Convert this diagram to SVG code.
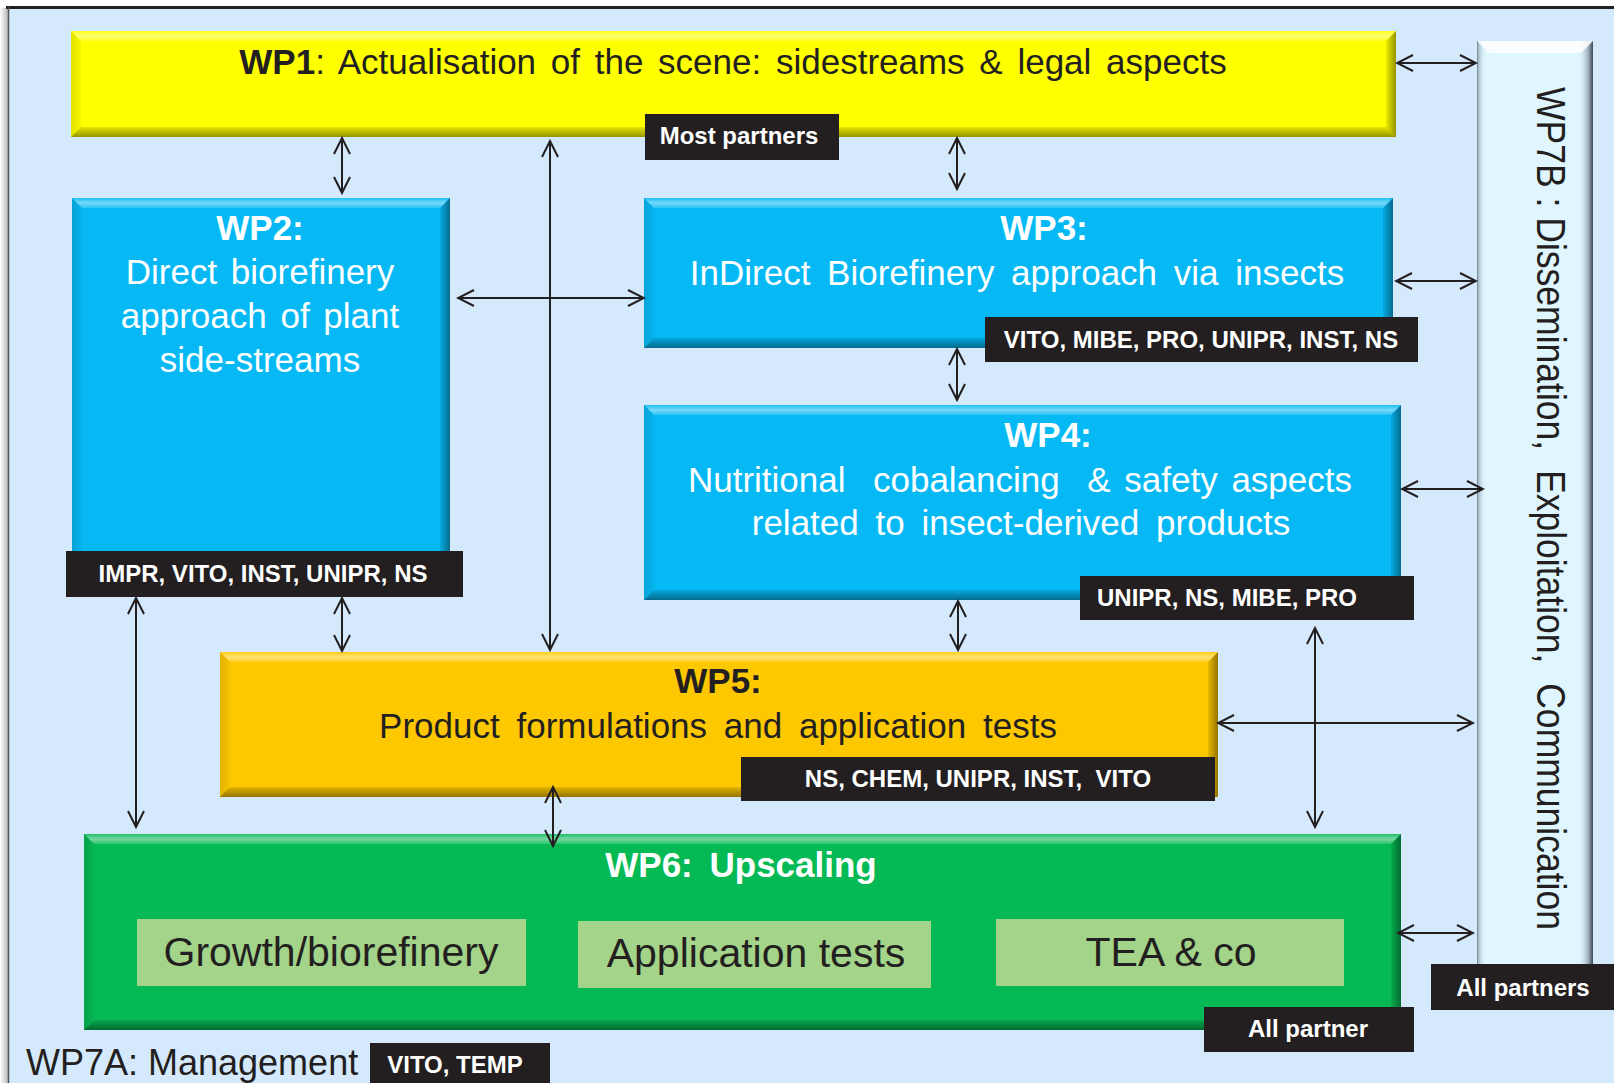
<svg xmlns="http://www.w3.org/2000/svg" width="1614" height="1083" viewBox="0 0 1614 1083">
  <defs>
    <style>
      .sans { font-family: "Liberation Sans", Arial, sans-serif; }
      .body { font-family: "Liberation Sans", Arial, sans-serif; font-size: 35px; }
      .title { font-family: "Liberation Sans", Arial, sans-serif; font-size: 35px; font-weight: bold; }
      .light { fill: #ffffff; }
      .dark { fill: #231f20; }
      .tag { fill: #231f20; }
      .tagtext { font-family: "Liberation Sans", Arial, sans-serif; font-size: 24px; font-weight: bold; fill: #ffffff; }
      .sub { fill: #a3d48a; }
      .subtext { font-family: "Liberation Sans", Arial, sans-serif; font-size: 41px; fill: #231f20; }
      .bvT { fill: url(#gTop); }
      .bvL { fill: url(#gLeft); }
      .bvR { fill: url(#gRight); }
      .bvB { fill: url(#gBot); }
      #connectors line { stroke: #231f20; stroke-width: 2; fill: none; marker-start: url(#ah); marker-end: url(#ah); }
    </style>
    <marker id="ah" viewBox="-18 -10 20 20" refX="0" refY="0" markerWidth="20" markerHeight="20" markerUnits="userSpaceOnUse" orient="auto-start-reverse">
      <path d="M-16,-8 L0,0 L-16,8" fill="none" stroke="#231f20" stroke-width="2"/>
    </marker>
    <linearGradient id="gTop" x1="0" y1="0" x2="0" y2="1">
      <stop offset="0" stop-color="#fff" stop-opacity="0.1"/>
      <stop offset="0.5" stop-color="#fff" stop-opacity="0.45"/>
      <stop offset="1" stop-color="#fff" stop-opacity="0.15"/>
    </linearGradient>
    <linearGradient id="gLeft" x1="0" y1="0" x2="1" y2="0">
      <stop offset="0" stop-color="#000" stop-opacity="0.12"/>
      <stop offset="1" stop-color="#000" stop-opacity="0.03"/>
    </linearGradient>
    <linearGradient id="gRight" x1="0" y1="0" x2="1" y2="0">
      <stop offset="0" stop-color="#000" stop-opacity="0.08"/>
      <stop offset="1" stop-color="#000" stop-opacity="0.42"/>
    </linearGradient>
    <linearGradient id="gBot" x1="0" y1="0" x2="0" y2="1">
      <stop offset="0" stop-color="#000" stop-opacity="0.1"/>
      <stop offset="1" stop-color="#000" stop-opacity="0.42"/>
    </linearGradient>
    <linearGradient id="gShadeL" x1="0" y1="0" x2="1" y2="0">
      <stop offset="0" stop-color="#ffffff"/>
      <stop offset="1" stop-color="#b8b8b8"/>
    </linearGradient>
    <linearGradient id="g7Left" x1="0" y1="0" x2="1" y2="0">
      <stop offset="0" stop-color="#8fa3b3"/>
      <stop offset="1" stop-color="#e0f6fe" stop-opacity="0"/>
    </linearGradient>
    <linearGradient id="g7Right" x1="0" y1="0" x2="1" y2="0">
      <stop offset="0" stop-color="#e0f6fe" stop-opacity="0"/>
      <stop offset="0.7" stop-color="#9aabb8"/>
      <stop offset="1" stop-color="#3d4650"/>
    </linearGradient>
  </defs>

  <!-- page and frame -->
  <rect x="0" y="0" width="1614" height="1083" fill="#ffffff"/>
  <rect x="0" y="8" width="8" height="1075" fill="url(#gShadeL)"/>
  <rect x="8" y="8" width="1606" height="1075" fill="#d5e9fc"/>
  <line x1="6" y1="7.5" x2="1614" y2="7.5" stroke="#222" stroke-width="3"/>
  <line x1="8.5" y1="7" x2="8.5" y2="1083" stroke="#555" stroke-width="1.5"/>

  <!-- WP1 -->
  <g id="wp1">
    <rect x="71" y="31" width="1325" height="106" fill="#ffff00"/>
    <polygon class="bvT" points="71,31 1396,31 1386,41 81,41"/>
    <polygon class="bvL" points="71,31 81,41 81,127 71,137"/>
    <polygon class="bvR" points="1396,31 1396,137 1386,127 1386,41"/>
    <polygon class="bvB" points="71,137 81,127 1386,127 1396,137"/>
    <text class="body dark" x="733" y="74" text-anchor="middle" word-spacing="5"><tspan font-weight="bold">WP1</tspan>: Actualisation of the scene: sidestreams &amp; legal aspects</text>
    <rect class="tag" x="645" y="114" width="194" height="46"/>
    <text class="tagtext" x="739" y="144" text-anchor="middle">Most partners</text>
  </g>

  <!-- WP2 -->
  <g id="wp2">
    <rect x="72" y="198" width="378" height="380" fill="#06b9f4"/>
    <polygon class="bvT" points="72,198 450,198 440,208 82,208"/>
    <polygon class="bvL" points="72,198 82,208 82,568 72,578"/>
    <polygon class="bvR" points="450,198 450,578 440,568 440,208"/>
    <polygon class="bvB" points="72,578 82,568 440,568 450,578"/>
    <text class="title light" x="260" y="240" text-anchor="middle">WP2:</text>
    <text class="body light" x="260" y="284" text-anchor="middle" word-spacing="4">Direct biorefinery</text>
    <text class="body light" x="260" y="328" text-anchor="middle" word-spacing="4">approach of plant</text>
    <text class="body light" x="260" y="372" text-anchor="middle">side-streams</text>
    <rect class="tag" x="66" y="551" width="397" height="46"/>
    <text class="tagtext" x="263" y="582" text-anchor="middle">IMPR, VITO, INST, UNIPR, NS</text>
  </g>

  <!-- WP3 -->
  <g id="wp3">
    <rect x="644" y="198" width="749" height="150" fill="#06b9f4"/>
    <polygon class="bvT" points="644,198 1393,198 1383,208 654,208"/>
    <polygon class="bvL" points="644,198 654,208 654,338 644,348"/>
    <polygon class="bvR" points="1393,198 1393,348 1383,338 1383,208"/>
    <polygon class="bvB" points="644,348 654,338 1383,338 1393,348"/>
    <text class="title light" x="1044" y="240" text-anchor="middle">WP3:</text>
    <text class="body light" x="1017" y="285" text-anchor="middle" word-spacing="7">InDirect Biorefinery approach via insects</text>
    <rect class="tag" x="985" y="317" width="433" height="45"/>
    <text class="tagtext" x="1201" y="348" text-anchor="middle">VITO, MIBE, PRO, UNIPR, INST, NS</text>
  </g>

  <!-- WP4 -->
  <g id="wp4">
    <rect x="644" y="405" width="757" height="195" fill="#06b9f4"/>
    <polygon class="bvT" points="644,405 1401,405 1391,415 654,415"/>
    <polygon class="bvL" points="644,405 654,415 654,590 644,600"/>
    <polygon class="bvR" points="1401,405 1401,600 1391,590 1391,415"/>
    <polygon class="bvB" points="644,600 654,590 1391,590 1401,600"/>
    <text class="title light" x="1048" y="447" text-anchor="middle">WP4:</text>
    <text class="body light" x="1020" y="492" text-anchor="middle" word-spacing="4" xml:space="preserve">Nutritional  cobalancing  &amp; safety aspects</text>
    <text class="body light" x="1021" y="535" text-anchor="middle" word-spacing="7">related to insect-derived products</text>
    <rect class="tag" x="1080" y="576" width="334" height="44"/>
    <text class="tagtext" x="1097" y="606">UNIPR, NS, MIBE, PRO</text>
  </g>

  <!-- WP5 -->
  <g id="wp5">
    <rect x="220" y="652" width="998" height="145" fill="#fec800"/>
    <polygon class="bvT" points="220,652 1218,652 1208,662 230,662"/>
    <polygon class="bvL" points="220,652 230,662 230,787 220,797"/>
    <polygon class="bvR" points="1218,652 1218,797 1208,787 1208,662"/>
    <polygon class="bvB" points="220,797 230,787 1208,787 1218,797"/>
    <text class="title dark" x="718" y="693" text-anchor="middle">WP5:</text>
    <text class="body dark" x="718" y="738" text-anchor="middle" word-spacing="7">Product formulations and application tests</text>
    <rect class="tag" x="741" y="757" width="474" height="44"/>
    <text class="tagtext" x="978" y="787" text-anchor="middle" xml:space="preserve">NS, CHEM, UNIPR, INST,  VITO</text>
  </g>

  <!-- WP6 -->
  <g id="wp6">
    <rect x="84" y="834" width="1317" height="196" fill="#05b954"/>
    <polygon class="bvT" points="84,834 1401,834 1391,844 94,844"/>
    <polygon class="bvL" points="84,834 94,844 94,1020 84,1030"/>
    <polygon class="bvR" points="1401,834 1401,1030 1391,1020 1391,844"/>
    <polygon class="bvB" points="84,1030 94,1020 1391,1020 1401,1030"/>
    <text class="title light" x="741" y="877" text-anchor="middle" word-spacing="7">WP6: Upscaling</text>
    <rect class="sub" x="137" y="919" width="389" height="67"/>
    <text class="subtext" x="331" y="966" text-anchor="middle">Growth/biorefinery</text>
    <rect class="sub" x="578" y="921" width="353" height="67"/>
    <text class="subtext" x="756" y="967" text-anchor="middle">Application tests</text>
    <rect class="sub" x="996" y="919" width="348" height="67"/>
    <text class="subtext" x="1171" y="966" text-anchor="middle">TEA &amp; co</text>
    <rect class="tag" x="1204" y="1007" width="210" height="45"/>
    <text class="tagtext" x="1308" y="1037" text-anchor="middle">All partner</text>
  </g>

  <!-- WP7A -->
  <g id="wp7a">
    <text class="sans dark" x="26" y="1075" font-size="36">WP7A: Management</text>
    <rect class="tag" x="370" y="1043" width="180" height="40"/>
    <text class="tagtext" x="455" y="1073" text-anchor="middle">VITO, TEMP</text>
  </g>

  <!-- WP7B -->
  <g id="wp7b">
    <rect x="1477" y="41" width="116" height="934" fill="#e0f6fe"/>
    <rect x="1477" y="41" width="9" height="934" fill="url(#g7Left)"/>
    <rect x="1578" y="41" width="15" height="934" fill="url(#g7Right)"/>
    <polygon points="1477,41 1593,41 1581,53 1489,53" fill="#ffffff" opacity="0.85"/>
    <line x1="1477.5" y1="41" x2="1477.5" y2="975" stroke="#7d8e9c" stroke-width="1"/>
    <text class="sans dark" font-size="40" transform="translate(1537,87) rotate(90)" textLength="843" lengthAdjust="spacingAndGlyphs" xml:space="preserve">WP7B : Dissemination,  Exploitation,  Communication</text>
    <rect class="tag" x="1431" y="964" width="183" height="46"/>
    <text class="tagtext" x="1523" y="996" text-anchor="middle">All partners</text>
  </g>

  <!-- connectors -->
  <g id="connectors">
    <line x1="342" y1="138" x2="342" y2="193"/>
    <line x1="550" y1="141" x2="550" y2="650"/>
    <line x1="458" y1="298" x2="644" y2="298"/>
    <line x1="957" y1="138" x2="957" y2="189"/>
    <line x1="1397" y1="63" x2="1476" y2="63"/>
    <line x1="1396" y1="281" x2="1476" y2="281"/>
    <line x1="957" y1="349" x2="957" y2="400"/>
    <line x1="1402" y1="489" x2="1483" y2="489"/>
    <line x1="958" y1="601" x2="958" y2="650"/>
    <line x1="1315" y1="628" x2="1315" y2="827"/>
    <line x1="1218" y1="723" x2="1473" y2="723"/>
    <line x1="136" y1="598" x2="136" y2="827"/>
    <line x1="342" y1="598" x2="342" y2="651"/>
    <line x1="553" y1="787" x2="553" y2="846"/>
    <line x1="1398" y1="933" x2="1473" y2="933"/>
  </g>
</svg>
